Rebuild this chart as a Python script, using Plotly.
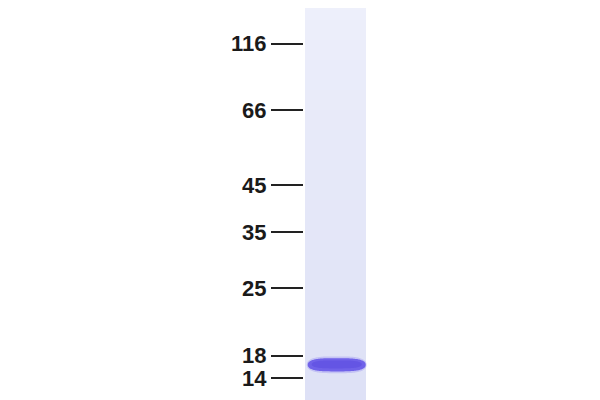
import numpy as np
import plotly.graph_objects as go

# ---- data ----
marker_kda = ["116", "66", "45", "35", "25", "18", "14"]
marker_migration = [0.109, 0.276, 0.463, 0.580, 0.720, 0.889, 0.946]  # relative migration (0 = top, 1 = bottom)
sample_lane = [1]
sample_band_migration = [0.912]
sample_band_kda = ["~17"]

# ---- figure geometry (page body has an 8px margin) ----
OFF = 8
W, H = 600 - OFF, 400 - OFF
px_per_unit = 61.0
lane_left_px = 305.0
x_lo = sample_lane[0] - 0.5 - (lane_left_px - OFF) / px_per_unit
x_hi = x_lo + W / px_per_unit
y_top = OFF / 400.0
y_bot = 1.0

fig = go.Figure()

# lane background with a vertical gradient
top_rgb = np.array([238, 240, 251])
bot_rgb = np.array([222, 225, 246])
n = 40
edges = np.linspace(0, 1, n + 1)
for ln in sample_lane:
    for i in range(n):
        f = (i + 0.5) / n
        c = top_rgb + (bot_rgb - top_rgb) * f ** 0.8
        fig.add_shape(type="rect", xref="x", yref="y",
                      x0=ln - 0.5, x1=ln + 0.5, y0=edges[i], y1=edges[i + 1] + 0.002,
                      fillcolor=f"rgb({c[0]:.0f},{c[1]:.0f},{c[2]:.0f})",
                      line=dict(width=0), layer="below")


def stadium(xc, yc, hw, hh, n=3.5, k=140):
    t = np.linspace(0, 2 * np.pi, k)
    c, s = np.cos(t), np.sin(t)
    xs = xc + hw * np.sign(c) * np.abs(c) ** (2 / n)
    ys = yc + hh * np.sign(s) * np.abs(s) ** (2 / 2.3)
    return "M " + " L ".join(f"{a:.4f},{b:.4f}" for a, b in zip(xs, ys)) + " Z"


for ln, mig in zip(sample_lane, sample_band_migration):
    xc = ln + 0.02
    fig.add_shape(type="path", xref="x", yref="y",
                  path=stadium(xc, mig, 0.49, 0.021),
                  fillcolor="#a49df1", opacity=0.45, line=dict(width=0))
    fig.add_shape(type="path", xref="x", yref="y",
                  path=stadium(xc, mig, 0.475, 0.0165),
                  fillcolor="#7062e9", line=dict(width=0))
    fig.add_shape(type="path", xref="x", yref="y",
                  path=stadium(xc, mig - 0.001, 0.41, 0.010),
                  fillcolor="#6455e4", line=dict(width=0))

# invisible trace to drive axes
fig.add_trace(go.Scatter(x=sample_lane, y=sample_band_migration, mode="markers",
                         marker=dict(opacity=0), hoverinfo="skip", showlegend=False,
                         text=sample_band_kda))

fig.update_layout(
    width=W, height=H,
    margin=dict(l=0, r=0, t=0, b=0),
    paper_bgcolor="white", plot_bgcolor="white",
    xaxis=dict(range=[x_lo, x_hi], visible=False, domain=[0, 1]),
    yaxis=dict(range=[y_bot, y_top], anchor="free", position=(303 - OFF) / W,
               tickmode="array", tickvals=marker_migration, ticktext=marker_kda,
               ticks="outside", ticklen=32, tickwidth=2, tickcolor="#222222",
               showgrid=False, zeroline=False, showline=False,
               tickfont=dict(family="Liberation Sans", size=22, color="#1a1a1a", weight="bold")),
)

fig.write_html("out.html")
